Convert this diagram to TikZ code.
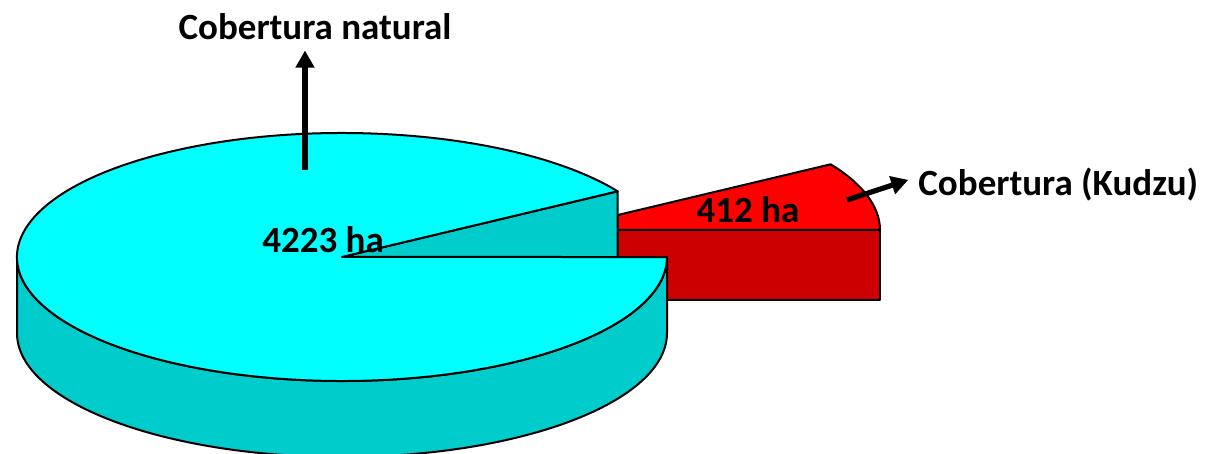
\documentclass[tikz,border=0pt]{standalone}
\usepackage{fontspec}
\setmainfont{Carlito}
\usepackage{tikz}
\usetikzlibrary{arrows.meta}

\definecolor{natclaro}{HTML}{00FFFF}
\definecolor{natescuro}{HTML}{00CCCC}
\definecolor{kudclaro}{HTML}{FF0000}
\definecolor{kudescuro}{HTML}{CC0000}

\tikzset{
  fatia/.style={draw=black, line width=1pt, line join=round},
  rotulo/.style={font=\fontsize{18.5}{22}\selectfont\bfseries, inner sep=2pt},
  seta/.style={line width=2.6pt, -{Triangle[length=8.5pt,width=9pt]}}
}

\begin{document}
\begin{tikzpicture}[x=0.5pt, y=0.5pt]
\useasboundingbox (0,0) rectangle (1216,454);

% fatia vermelha (Kudzu), destacada
\coordinate (kc) at (555,224);
\draw [fatia, fill=kudescuro] (kc) rectangle (880,154);
\draw [fatia, fill=kudclaro] (kc) -- (880,224)
  arc [start angle=0, end angle=32, x radius=325, y radius=124] -- cycle;

% fatia azul (cobertura natural)
\coordinate (nc) at (342,197);
\draw [fatia, fill=natescuro] (17,197)
  arc [start angle=180, end angle=360, x radius=325, y radius=124]
  -- (667,121)
  arc [start angle=360, end angle=180, x radius=325, y radius=124] -- cycle;
\draw [fatia, fill=natescuro] (nc) -- (617.6,262.7) -- (617.6,186.7) -- (342,121) -- cycle;
\draw [fatia, fill=natclaro] (nc) -- (617.6,262.7)
  arc [start angle=32, end angle=360, x radius=325, y radius=124] -- cycle;

% rotulos
\node [rotulo] (natval) at (323,214) {4223 ha};
\node [rotulo] (kudval) at (748,244) {412 ha};
\node [rotulo] (natlabel) at (315,427) {Cobertura natural};
\node [rotulo, anchor=west] (kudlabel) at (914,269) {Cobertura (Kudzu)};

% setas
\coordinate (natstart) at (305,284);
\coordinate (kudstart) at (847,254);
\draw [seta, shorten >=3pt] (natstart) -- (natstart |- natlabel.south);
\draw [seta, shorten >=3pt] (kudstart) -- ([yshift=3.5pt]kudlabel.west);
\end{tikzpicture}
\end{document}
